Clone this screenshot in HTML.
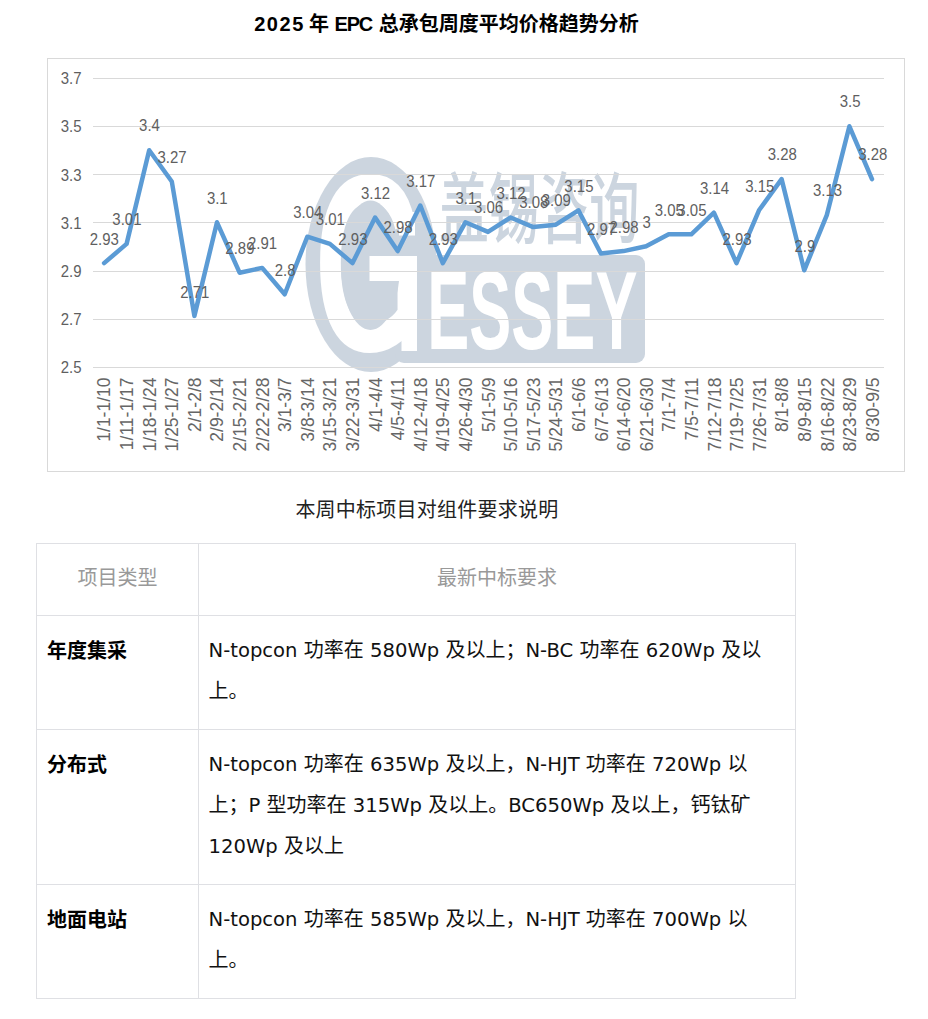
<!DOCTYPE html>
<html lang="zh-CN"><head><meta charset="utf-8"><title>2025 年 EPC 总承包周度平均价格趋势分析</title>
<style>
*{margin:0;padding:0;box-sizing:border-box}
html,body{width:928px;height:1019px;background:#fff;overflow:hidden}
body{position:relative;font-family:"Liberation Sans","Noto Sans CJK SC",sans-serif;color:#222}
#chart{position:absolute;left:0;top:0}
#chart .lb{font-family:"Liberation Sans",sans-serif;font-size:17px;fill:#5f5f5f}
#chart .xl{font-family:"Liberation Sans",sans-serif;font-size:17.5px;fill:#666}
h1{position:absolute;left:0;top:9.5px;width:893px;text-align:center;font-size:20px;font-weight:700;line-height:28px;color:#000;white-space:nowrap}
.sub{position:absolute;left:0;top:495.5px;letter-spacing:0.25px;width:854px;text-align:center;font-size:20px;line-height:28px;color:#222;white-space:nowrap}
table{position:absolute;left:36px;top:543px;width:760px;border-collapse:collapse;font-size:20px;line-height:41px}
td,th{border:1px solid #dfe0e4;padding:15px 10px 16px 10px;vertical-align:top;text-align:left;white-space:nowrap}
th{font-weight:400;color:#999;text-align:center;padding-top:13.5px;padding-bottom:16.5px}
td.k{font-weight:700;color:#000;width:162px}
td.v{color:#111;padding-left:9.5px;padding-top:14px;padding-bottom:17px}
.l{font-family:"DejaVu Sans",sans-serif;font-size:19.6px}
</style></head><body>
<h1><span style="letter-spacing:1.6px">202</span>5 年 <span style="letter-spacing:-1.2px">EP</span>C 总承包周度平均价格趋势分析</h1>
<svg id="chart" width="928" height="480" viewBox="0 0 928 480">
<rect x="47.5" y="58.5" width="857" height="413" fill="#fff" stroke="#d9d9d9" stroke-width="1"/>
<g id="wm" fill="#ccd5df">
<ellipse cx="371" cy="264.5" rx="65.5" ry="107.5"/>
<rect x="395" y="255" width="250" height="108" rx="9" ry="9"/>
<text x="0" y="0" transform="translate(438.7,236.5) scale(0.648,1)" font-family="'Noto Sans CJK SC', sans-serif" font-size="77.4" font-weight="500" fill="#ccd5df">盖锡咨询</text>
<text x="0" y="0" transform="translate(314.3,351) scale(0.566,1)" font-family="'Liberation Sans', sans-serif" font-size="252.3" font-weight="700" fill="#fff">G</text>
<ellipse cx="370.5" cy="265.3" rx="29.5" ry="64.7" fill="#ccd5df"/>
<rect x="369.5" y="256" width="47.5" height="25" fill="#fff"/>
<rect x="401.5" y="256" width="15.5" height="95" fill="#fff"/>
<rect x="399" y="212" width="16" height="23.5" fill="#fff"/>
<text x="0" y="0" transform="translate(427.2,349.3) scale(0.565,1)" font-family="'Liberation Sans', sans-serif" font-size="111.6" font-weight="700" fill="#fff">ESSEY</text>
</g>
<line x1="93.0" y1="78.5" x2="884.0" y2="78.5" stroke="#d9d9d9" stroke-width="1"/>
<line x1="93.0" y1="126.5" x2="884.0" y2="126.5" stroke="#d9d9d9" stroke-width="1"/>
<line x1="93.0" y1="174.5" x2="884.0" y2="174.5" stroke="#d9d9d9" stroke-width="1"/>
<line x1="93.0" y1="222.5" x2="884.0" y2="222.5" stroke="#d9d9d9" stroke-width="1"/>
<line x1="93.0" y1="271.5" x2="884.0" y2="271.5" stroke="#d9d9d9" stroke-width="1"/>
<line x1="93.0" y1="319.5" x2="884.0" y2="319.5" stroke="#d9d9d9" stroke-width="1"/>
<line x1="93.0" y1="367.5" x2="884.0" y2="367.5" stroke="#d9d9d9" stroke-width="1"/>
<text transform="translate(81.5,84.1) scale(0.88,1)" text-anchor="end" class="lb">3.7</text>
<text transform="translate(81.5,132.3) scale(0.88,1)" text-anchor="end" class="lb">3.5</text>
<text transform="translate(81.5,180.5) scale(0.88,1)" text-anchor="end" class="lb">3.3</text>
<text transform="translate(81.5,228.7) scale(0.88,1)" text-anchor="end" class="lb">3.1</text>
<text transform="translate(81.5,276.9) scale(0.88,1)" text-anchor="end" class="lb">2.9</text>
<text transform="translate(81.5,325.1) scale(0.88,1)" text-anchor="end" class="lb">2.7</text>
<text transform="translate(81.5,373.3) scale(0.88,1)" text-anchor="end" class="lb">2.5</text>
<polyline points="104.1,263.1 126.6,243.9 149.2,150.3 171.8,181.5 194.4,315.9 217.0,222.3 239.6,272.7 262.2,267.9 284.7,294.3 307.3,236.7 329.9,243.9 352.5,263.1 375.1,217.5 397.7,251.1 420.3,205.5 442.8,263.1 465.4,222.3 488.0,231.9 510.6,217.5 533.2,227.1 555.8,224.7 578.4,210.3 600.9,253.5 623.5,251.1 646.1,246.3 668.7,234.3 691.3,234.3 713.9,212.7 736.5,263.1 759.0,210.3 781.6,179.1 804.2,270.3 826.8,215.1 849.4,126.3 872.0,179.1" fill="none" stroke="#5b9bd5" stroke-width="4.5" stroke-linejoin="round" stroke-linecap="round"/>
<text transform="translate(104.3,244.6) scale(0.88,1)" text-anchor="middle" class="lb">2.93</text>
<text transform="translate(126.9,225.3) scale(0.88,1)" text-anchor="middle" class="lb">3.01</text>
<text transform="translate(149.5,131.4) scale(0.88,1)" text-anchor="middle" class="lb">3.4</text>
<text transform="translate(172.1,162.7) scale(0.88,1)" text-anchor="middle" class="lb">3.27</text>
<text transform="translate(194.7,297.5) scale(0.88,1)" text-anchor="middle" class="lb">2.71</text>
<text transform="translate(217.3,203.6) scale(0.88,1)" text-anchor="middle" class="lb">3.1</text>
<text transform="translate(239.9,254.2) scale(0.88,1)" text-anchor="middle" class="lb">2.89</text>
<text transform="translate(262.5,249.4) scale(0.88,1)" text-anchor="middle" class="lb">2.91</text>
<text transform="translate(285.1,275.9) scale(0.88,1)" text-anchor="middle" class="lb">2.8</text>
<text transform="translate(307.7,218.1) scale(0.88,1)" text-anchor="middle" class="lb">3.04</text>
<text transform="translate(330.3,225.3) scale(0.88,1)" text-anchor="middle" class="lb">3.01</text>
<text transform="translate(352.9,244.6) scale(0.88,1)" text-anchor="middle" class="lb">2.93</text>
<text transform="translate(375.5,198.8) scale(0.88,1)" text-anchor="middle" class="lb">3.12</text>
<text transform="translate(398.1,232.5) scale(0.88,1)" text-anchor="middle" class="lb">2.98</text>
<text transform="translate(420.7,186.8) scale(0.88,1)" text-anchor="middle" class="lb">3.17</text>
<text transform="translate(443.3,244.6) scale(0.88,1)" text-anchor="middle" class="lb">2.93</text>
<text transform="translate(465.9,203.6) scale(0.88,1)" text-anchor="middle" class="lb">3.1</text>
<text transform="translate(488.5,213.2) scale(0.88,1)" text-anchor="middle" class="lb">3.06</text>
<text transform="translate(511.1,198.8) scale(0.88,1)" text-anchor="middle" class="lb">3.12</text>
<text transform="translate(533.7,208.4) scale(0.88,1)" text-anchor="middle" class="lb">3.08</text>
<text transform="translate(556.3,206.0) scale(0.88,1)" text-anchor="middle" class="lb">3.09</text>
<text transform="translate(578.9,191.6) scale(0.88,1)" text-anchor="middle" class="lb">3.15</text>
<text transform="translate(601.5,234.9) scale(0.88,1)" text-anchor="middle" class="lb">2.97</text>
<text transform="translate(624.1,232.5) scale(0.88,1)" text-anchor="middle" class="lb">2.98</text>
<text transform="translate(646.7,227.7) scale(0.88,1)" text-anchor="middle" class="lb">3</text>
<text transform="translate(669.3,215.7) scale(0.88,1)" text-anchor="middle" class="lb">3.05</text>
<text transform="translate(691.9,215.7) scale(0.88,1)" text-anchor="middle" class="lb">3.05</text>
<text transform="translate(714.5,194.0) scale(0.88,1)" text-anchor="middle" class="lb">3.14</text>
<text transform="translate(737.1,244.6) scale(0.88,1)" text-anchor="middle" class="lb">2.93</text>
<text transform="translate(759.7,191.6) scale(0.88,1)" text-anchor="middle" class="lb">3.15</text>
<text transform="translate(782.3,160.3) scale(0.88,1)" text-anchor="middle" class="lb">3.28</text>
<text transform="translate(804.9,251.8) scale(0.88,1)" text-anchor="middle" class="lb">2.9</text>
<text transform="translate(827.5,196.4) scale(0.88,1)" text-anchor="middle" class="lb">3.13</text>
<text transform="translate(850.1,107.3) scale(0.88,1)" text-anchor="middle" class="lb">3.5</text>
<text transform="translate(872.7,160.3) scale(0.88,1)" text-anchor="middle" class="lb">3.28</text>
<text transform="translate(110.3,377.5) rotate(-90)" text-anchor="end" class="xl">1/1-1/10</text>
<text transform="translate(132.9,377.5) rotate(-90)" text-anchor="end" class="xl">1/11-1/17</text>
<text transform="translate(155.5,377.5) rotate(-90)" text-anchor="end" class="xl">1/18-1/24</text>
<text transform="translate(178.1,377.5) rotate(-90)" text-anchor="end" class="xl">1/25-1/27</text>
<text transform="translate(200.7,377.5) rotate(-90)" text-anchor="end" class="xl">2/1-2/8</text>
<text transform="translate(223.3,377.5) rotate(-90)" text-anchor="end" class="xl">2/9-2/14</text>
<text transform="translate(245.9,377.5) rotate(-90)" text-anchor="end" class="xl">2/15-2/21</text>
<text transform="translate(268.5,377.5) rotate(-90)" text-anchor="end" class="xl">2/22-2/28</text>
<text transform="translate(291.1,377.5) rotate(-90)" text-anchor="end" class="xl">3/1-3/7</text>
<text transform="translate(313.7,377.5) rotate(-90)" text-anchor="end" class="xl">3/8-3/14</text>
<text transform="translate(336.3,377.5) rotate(-90)" text-anchor="end" class="xl">3/15-3/21</text>
<text transform="translate(358.9,377.5) rotate(-90)" text-anchor="end" class="xl">3/22-3/31</text>
<text transform="translate(381.5,377.5) rotate(-90)" text-anchor="end" class="xl">4/1-4/4</text>
<text transform="translate(404.1,377.5) rotate(-90)" text-anchor="end" class="xl">4/5-4/11</text>
<text transform="translate(426.7,377.5) rotate(-90)" text-anchor="end" class="xl">4/12-4/18</text>
<text transform="translate(449.3,377.5) rotate(-90)" text-anchor="end" class="xl">4/19-4/25</text>
<text transform="translate(471.9,377.5) rotate(-90)" text-anchor="end" class="xl">4/26-4/30</text>
<text transform="translate(494.5,377.5) rotate(-90)" text-anchor="end" class="xl">5/1-5/9</text>
<text transform="translate(517.1,377.5) rotate(-90)" text-anchor="end" class="xl">5/10-5/16</text>
<text transform="translate(539.7,377.5) rotate(-90)" text-anchor="end" class="xl">5/17-5/23</text>
<text transform="translate(562.3,377.5) rotate(-90)" text-anchor="end" class="xl">5/24-5/31</text>
<text transform="translate(584.9,377.5) rotate(-90)" text-anchor="end" class="xl">6/1-6/6</text>
<text transform="translate(607.5,377.5) rotate(-90)" text-anchor="end" class="xl">6/7-6/13</text>
<text transform="translate(630.1,377.5) rotate(-90)" text-anchor="end" class="xl">6/14-6/20</text>
<text transform="translate(652.7,377.5) rotate(-90)" text-anchor="end" class="xl">6/21-6/30</text>
<text transform="translate(675.3,377.5) rotate(-90)" text-anchor="end" class="xl">7/1-7/4</text>
<text transform="translate(697.9,377.5) rotate(-90)" text-anchor="end" class="xl">7/5-7/11</text>
<text transform="translate(720.5,377.5) rotate(-90)" text-anchor="end" class="xl">7/12-7/18</text>
<text transform="translate(743.1,377.5) rotate(-90)" text-anchor="end" class="xl">7/19-7/25</text>
<text transform="translate(765.7,377.5) rotate(-90)" text-anchor="end" class="xl">7/26-7/31</text>
<text transform="translate(788.3,377.5) rotate(-90)" text-anchor="end" class="xl">8/1-8/8</text>
<text transform="translate(810.9,377.5) rotate(-90)" text-anchor="end" class="xl">8/9-8/15</text>
<text transform="translate(833.5,377.5) rotate(-90)" text-anchor="end" class="xl">8/16-8/22</text>
<text transform="translate(856.1,377.5) rotate(-90)" text-anchor="end" class="xl">8/23-8/29</text>
<text transform="translate(878.7,377.5) rotate(-90)" text-anchor="end" class="xl">8/30-9/5</text>
</svg>
<div class="sub">本周中标项目对组件要求说明</div>
<table>
<tr><th style="width:162px">项目类型</th><th>最新中标要求</th></tr>
<tr><td class="k">年度集采</td><td class="v"><span class="l">N-topcon </span>功率在<span class="l"> 580Wp </span>及以上；<span class="l">N-BC </span>功率在<span class="l"> 620Wp </span>及以<br>上。</td></tr>
<tr><td class="k">分布式</td><td class="v"><span class="l">N-topcon </span>功率在<span class="l"> 635Wp </span>及以上，<span class="l">N-HJT </span>功率在<span class="l"> 720Wp </span>以<br>上；<span class="l">P </span>型功率在<span class="l"> 315Wp </span>及以上。<span class="l">BC650Wp </span>及以上，钙钛矿<br><span class="l">120Wp </span>及以上</td></tr>
<tr><td class="k">地面电站</td><td class="v"><span class="l">N-topcon </span>功率在<span class="l"> 585Wp </span>及以上，<span class="l">N-HJT </span>功率在<span class="l"> 700Wp </span>以<br>上。</td></tr>
</table>
</body></html>
